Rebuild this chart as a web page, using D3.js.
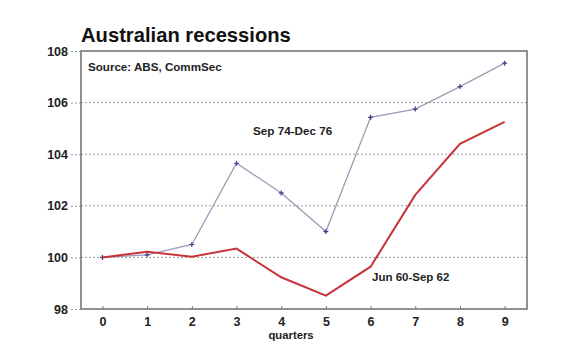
<!DOCTYPE html>
<html><head><meta charset="utf-8">
<script src="https://cdn.jsdelivr.net/npm/d3@7"></script>
<style>
body{margin:0;background:#fff;}
text{font-family:"Liberation Sans",Arial,sans-serif;}
</style></head>
<body><svg id="c" width="580" height="352"></svg>
<script>
const quarters = [0,1,2,3,4,5,6,7,8,9];
const sep74dec76 = [100.0,100.1,100.5,103.65,102.5,101.0,105.43,105.75,106.62,107.53];
const jun60sep62 = [100.0,100.22,100.03,100.34,99.23,98.52,99.64,102.42,104.4,105.25];
const yTicks = [98,100,102,104,106,108];
const gridTicks = [100,102,104,106];

const svg = d3.select("#c");
const L=81, R=527, T=51, B=309;
const x = d3.scaleLinear().domain([-0.48,9.5]).range([L,R]);
const y = d3.scaleLinear().domain([98,108]).range([B,T]);

svg.append("rect").attr("width",580).attr("height",352).attr("fill","#fff");

// gridlines
svg.append("g").selectAll("line").data(gridTicks).join("line")
  .attr("x1",L).attr("x2",R).attr("y1",d=>y(d)).attr("y2",d=>y(d))
  .attr("stroke","#9a9a9a").attr("stroke-width",1).attr("stroke-dasharray","2,2");

// y axis
const ya = svg.append("g").attr("transform",`translate(${L},0)`)
  .call(d3.axisLeft(y).tickValues(yTicks).tickSize(10).tickPadding(3).tickFormat(d3.format("d")));
ya.select(".domain").remove();
ya.selectAll("line").attr("stroke","#9a9a9a").attr("stroke-dasharray","2,2");
ya.selectAll("text").attr("font-size",12.5).attr("font-weight","bold").attr("fill","#222");

// x axis
const xa = svg.append("g").attr("transform",`translate(0,${B})`)
  .call(d3.axisBottom(x).tickValues(quarters).tickSize(-3).tickPadding(8).tickFormat(d3.format("d")));
xa.select(".domain").remove();
xa.selectAll("line").attr("stroke","#777");
xa.selectAll("text").attr("font-size",12.5).attr("font-weight","bold").attr("fill","#222");

// frame
svg.append("rect").attr("x",L).attr("y",T).attr("width",R-L).attr("height",B-T)
  .attr("fill","none").attr("stroke","#777").attr("stroke-width",1.6);

const line = d3.line().x((d,i)=>x(quarters[i])).y(d=>y(d));

svg.append("path").datum(sep74dec76).attr("d",line)
  .attr("fill","none").attr("stroke","#9c9cb8").attr("stroke-width",1.3);
svg.append("g").selectAll("path").data(sep74dec76).join("path")
  .attr("transform",(d,i)=>`translate(${x(quarters[i])},${y(d)})`)
  .attr("d","M-2.5,0H2.5M0,-2.5V2.5").attr("stroke","#3a3a8c").attr("stroke-width",1.2);

svg.append("path").datum(jun60sep62).attr("d",line)
  .attr("fill","none").attr("stroke","#c8333a").attr("stroke-width",2);

// texts
svg.append("text").attr("x",81).attr("y",42).text("Australian recessions")
  .attr("font-size",20.2).attr("font-weight","bold").attr("fill","#111");
svg.append("text").attr("x",88).attr("y",71).text("Source: ABS, CommSec")
  .attr("font-size",11.6).attr("font-weight","bold").attr("fill","#222");
svg.append("text").attr("x",253).attr("y",135).text("Sep 74-Dec 76")
  .attr("font-size",11.7).attr("font-weight","bold").attr("fill","#222");
svg.append("text").attr("x",372).attr("y",281).text("Jun 60-Sep 62")
  .attr("font-size",11.5).attr("font-weight","bold").attr("fill","#222");
svg.append("text").attr("x",x(4.22)).attr("y",339).attr("text-anchor","middle").text("quarters")
  .attr("font-size",11.3).attr("font-weight","bold").attr("fill","#222");
</script></body></html>
